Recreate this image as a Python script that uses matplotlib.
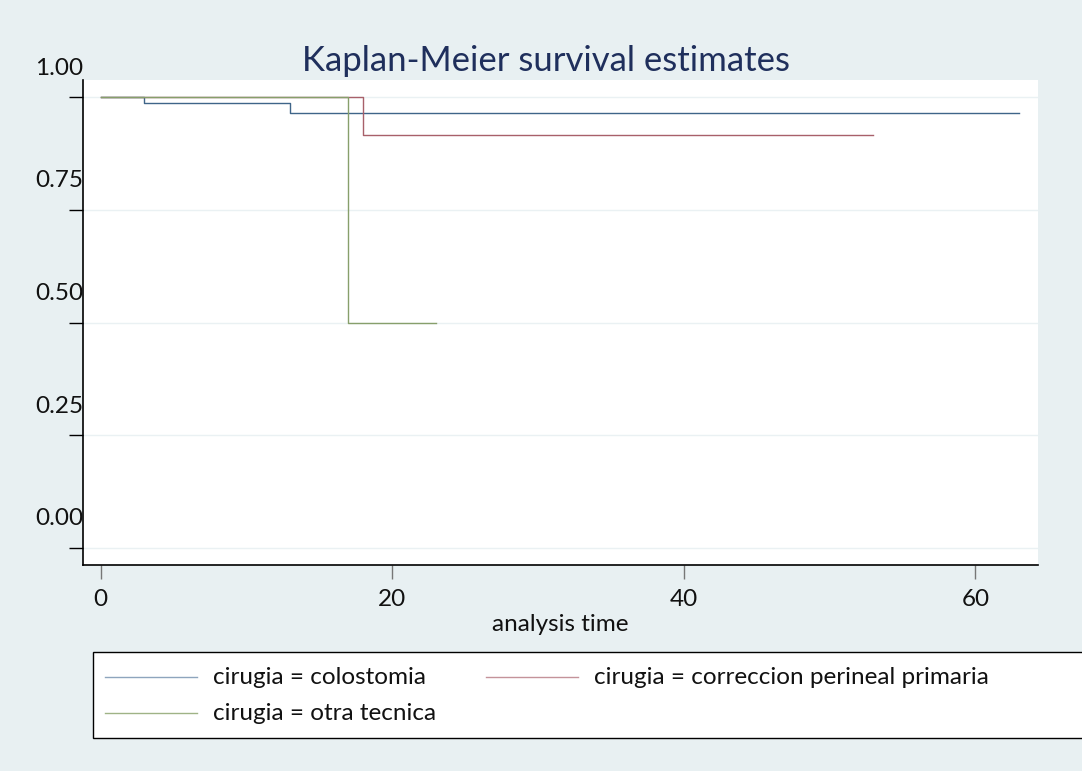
import matplotlib
matplotlib.use("Agg")
import matplotlib.pyplot as plt
import matplotlib.transforms as mtransforms
from matplotlib.patches import Rectangle
from matplotlib.lines import Line2D

plt.rcParams["font.family"] = ["Lato", "DejaVu Sans"]

# Kaplan-Meier step data (time, survival)
colo_t = [0, 3, 13, 63]
colo_s = [1.0, 0.986, 0.964, 0.964]
corr_t = [0, 18, 53]
corr_s = [1.0, 0.916, 0.916]
otra_t = [0, 17, 23]
otra_s = [1.0, 0.5, 0.5]

labels = ["cirugia = colostomia",
          "cirugia = correccion perineal primaria",
          "cirugia = otra tecnica"]
line_colors = ["#3f6589", "#a8606a", "#879f6b"]
legend_colors = ["#8ea5bd", "#c4939a", "#9fb386"]

y_ticks = [0.0, 0.25, 0.5, 0.75, 1.0]
y_labels = ["0.00", "0.25", "0.50", "0.75", "1.00"]
x_ticks = [0, 20, 40, 60]

BG = "#e8f0f2"
FS = 17.5
W, H = 1082, 771
fig = plt.figure(figsize=(W / 100, H / 100), dpi=100, facecolor=BG)
ax = fig.add_axes([83 / W, 1 - 565 / H, (1038 - 83) / W, (565 - 80) / H])
ax.set_facecolor("white")

for t, s, c in zip([colo_t, corr_t, otra_t], [colo_s, corr_s, otra_s], line_colors):
    ax.step(t, s, where="post", color=c, lw=1.0)

ax.set_xlim(-1.21, 64.3)
ax.set_ylim(-0.0377, 1.0377)

ax.set_yticks(y_ticks)
ax.set_yticklabels([])
ax.yaxis.grid(True, color="#eaf1f3", lw=1.0)
ax.set_axisbelow(True)
ax.tick_params(axis="y", length=10, width=1, color="black", direction="out")

# y labels sit above their ticks, like the Stata export
off = mtransforms.ScaledTranslation(0, 29 / 100, fig.dpi_scale_trans)
for v, lab in zip(y_ticks, y_labels):
    ax.text(0, v, lab, transform=ax.get_yaxis_transform() + off,
            ha="right", va="center", fontsize=FS, color="#111")

ax.set_xticks(x_ticks)
ax.set_xticklabels([str(x) for x in x_ticks], fontsize=FS, color="#111")
ax.tick_params(axis="x", length=10, width=1, color="#777", pad=7)
ax.set_xlabel("analysis time", fontsize=FS, color="#111", labelpad=3)

for sp in ["top", "right"]:
    ax.spines[sp].set_visible(False)
ax.spines["left"].set_linewidth(1.2)
ax.spines["bottom"].set_linewidth(1.2)

fig.text(546 / W, 1 - 61 / H, "Kaplan-Meier survival estimates",
         ha="center", va="center", fontsize=25, color="#1f2f5c")

# legend box (runs off the right edge in the original)
fig.patches.append(Rectangle((93 / W, 1 - 738 / H), (1100 - 93) / W, (738 - 652) / H,
                             transform=fig.transFigure, facecolor="white",
                             edgecolor="black", lw=1.0, zorder=1))
slots = [(105, 677), (486, 677), (105, 713)]
for (x0, yy), lab, c in zip(slots, labels, legend_colors):
    fig.lines.append(Line2D([x0 / W, (x0 + 92) / W], [1 - yy / H] * 2,
                            transform=fig.transFigure, color=c, lw=1.0, zorder=2))
    fig.text((x0 + 108) / W, 1 - yy / H, lab, ha="left", va="center",
             fontsize=FS, color="#111", zorder=3)

fig.savefig("out.png", dpi=100, facecolor=BG)
